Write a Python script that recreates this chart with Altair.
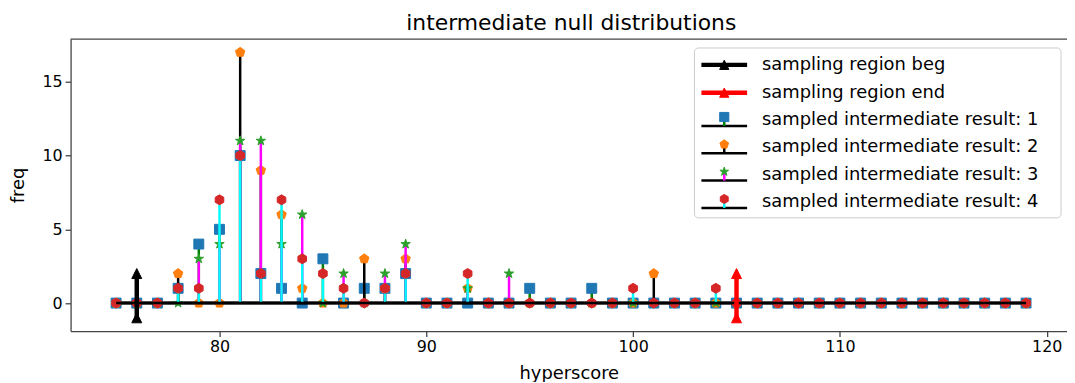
import altair as alt
import pandas as pd

# ---------------- data ----------------
hyperscore = [75, 76, 77, 78, 79, 80, 81, 82, 83, 84, 85, 86, 87, 88, 89, 90, 91, 92, 93, 94, 95, 96, 97,
              98, 99, 100, 101, 102, 103, 104, 105, 106, 107, 108, 109, 110, 111, 112, 113, 114, 115, 116,
              117, 118, 119]
freq_1 = [0, 0, 0, 1, 4, 5, 10, 2, 1, 0, 3, 0, 1, 1, 2, 0, 0, 0, 0, 0, 1, 0, 0,
          1, 0, 0, 0, 0, 0, 0, 0, 0, 0, 0, 0, 0, 0, 0, 0, 0, 0, 0, 0, 0, 0]
freq_2 = [0, 0, 0, 2, 0, 0, 17, 9, 6, 1, 0, 0, 3, 1, 3, 0, 0, 1, 0, 0, 0, 0, 0,
          0, 0, 0, 2, 0, 0, 0, 0, 0, 0, 0, 0, 0, 0, 0, 0, 0, 0, 0, 0, 0, 0]
freq_3 = [0, 0, 0, 0, 3, 4, 11, 11, 4, 6, 0, 2, 0, 2, 4, 0, 0, 1, 0, 2, 0, 0, 0,
          0, 0, 0, 0, 0, 0, 0, 0, 0, 0, 0, 0, 0, 0, 0, 0, 0, 0, 0, 0, 0, 0]
freq_4 = [0, 0, 0, 1, 1, 7, 10, 2, 7, 3, 2, 1, 0, 1, 2, 0, 0, 2, 0, 0, 0, 0, 0,
          0, 0, 1, 0, 0, 0, 1, 0, 0, 0, 0, 0, 0, 0, 0, 0, 0, 0, 0, 0, 0, 0]
series_labels = ["sampled intermediate result: 1", "sampled intermediate result: 2",
                 "sampled intermediate result: 3", "sampled intermediate result: 4"]

region_labels = ["sampling region beg", "sampling region end"]
region_x = [76, 105]
region_lo = [-1, -1]
region_hi = [2, 2]

x_ticks = [80, 90, 100, 110, 120]
y_ticks = [0, 5, 10, 15]
chart_title = "intermediate null distributions"

# ---------------- styles ----------------
marker_colors = ["#1f77b4", "#ff7f0e", "#2ca02c", "#d62728"]
stem_colors = ["green", "black", "magenta", "cyan"]
region_colors = ["black", "red"]

SQUARE = "M-1,-1L1,-1L1,1L-1,1Z"
PENTAGON = "M0,-1L0.951,-0.309L0.588,0.809L-0.588,0.809L-0.951,-0.309Z"
STAR = ("M0,-1L0.225,-0.309L0.951,-0.309L0.363,0.118L0.588,0.809L0,0.382L-0.588,0.809"
        "L-0.363,0.118L-0.951,-0.309L-0.225,-0.309Z")
HEXAGON = "M0,-1L0.866,-0.5L0.866,0.5L0,1L-0.866,0.5L-0.866,-0.5Z"
TRIANGLE = "M0,-1L1,1L-1,1Z"
marker_shapes = [SQUARE, PENTAGON, STAR, HEXAGON]

FONT = "DejaVu Sans"
W, H = 1003, 294
MSIZE = 100

xscale = alt.Scale(domain=[72.8, 120.98], nice=False, zero=False)
yscale = alt.Scale(domain=[-1.9, 17.9], nice=False, zero=False)
xaxis = alt.Axis(values=x_ticks, title="hyperscore", format="d", titleY=48,
                 titleBaseline="alphabetic", labelPadding=2)
yaxis = alt.Axis(values=y_ticks, title="freq", format="d", titleX=-47,
                 titleBaseline="alphabetic", labelPadding=3)


def X(field):
    return alt.X(field, type="quantitative", scale=xscale, axis=xaxis)


def Y(field):
    return alt.Y(field, type="quantitative", scale=yscale, axis=yaxis)


layers = []
all_freqs = [freq_1, freq_2, freq_3, freq_4]
for i, fr in enumerate(all_freqs):
    df = pd.DataFrame({"hyperscore": hyperscore, "freq": fr, "series": series_labels[i]})
    base = alt.Chart(df)
    stems = base.mark_rule(color=stem_colors[i], strokeWidth=2.5).encode(
        x=X("hyperscore"), y=Y("freq"), y2=alt.Y2(datum=0))
    marks = base.mark_point(shape=marker_shapes[i], filled=True, size=MSIZE, opacity=1,
                            color=marker_colors[i], stroke=marker_colors[i],
                            strokeWidth=1).encode(x=X("hyperscore"), y=Y("freq"))
    baseline = base.mark_rule(color="black", strokeWidth=2.5).encode(
        x=alt.X("min(hyperscore):Q", scale=xscale, axis=xaxis),
        x2=alt.X2("max(hyperscore)"),
        y=alt.Y(datum=0, scale=yscale, axis=yaxis))
    layers += [stems, marks, baseline]

# sampling region arrows
for j in range(2):
    rdf = pd.DataFrame({"hyperscore": [region_x[j]], "lo": [region_lo[j]], "hi": [region_hi[j]]})
    layers.append(alt.Chart(rdf).mark_rule(color=region_colors[j], strokeWidth=4.5).encode(
        x=X("hyperscore"), y=Y("lo"), y2="hi"))
    tdf = pd.DataFrame({"hyperscore": [region_x[j], region_x[j]], "freq": [region_lo[j], region_hi[j]]})
    layers.append(alt.Chart(tdf).mark_point(shape=TRIANGLE, filled=True, size=MSIZE, opacity=1,
                                            color=region_colors[j], stroke=region_colors[j],
                                            strokeWidth=1).encode(x=X("hyperscore"), y=Y("freq")))

# ---------------- legend (drawn in plot pixel space) ----------------
PX = dict(scale=None, axis=None)
box = pd.DataFrame({"x0": [628], "x1": [997], "y0": [9], "y1": [180]})
layers.append(alt.Chart(box).mark_rect(fill="white", fillOpacity=0.8, stroke="#cccccc",
                                       strokeWidth=1, cornerRadius=4).encode(
    x=alt.X("x0:Q", **PX), x2="x1:Q", y=alt.Y("y0:Q", **PX), y2="y1:Q"))

leg_labels = region_labels + series_labels
leg_y = [26, 54, 81.5, 109, 136.5, 164]
hx0, hx1, hxc, tx = 635, 681, 658, 696

# region entries: thick line + triangle
reg = pd.DataFrame({"x0": [hx0] * 2, "x1": [hx1] * 2, "xc": [hxc] * 2, "y": leg_y[:2],
                    "c": region_colors})
layers.append(alt.Chart(reg).mark_rule(strokeWidth=4.5).encode(
    x=alt.X("x0:Q", **PX), x2="x1:Q", y=alt.Y("y:Q", **PX), color=alt.Color("c:N", scale=None)))
layers.append(alt.Chart(reg).mark_point(shape=TRIANGLE, filled=True, size=MSIZE * 0.85, opacity=1,
                                        strokeWidth=1).encode(
    x=alt.X("xc:Q", **PX), y=alt.Y("y:Q", **PX), color=alt.Color("c:N", scale=None),
    stroke=alt.Stroke("c:N", scale=None)))

# stem entries: baseline + stem + marker
st = pd.DataFrame({"x0": [hx0] * 4, "x1": [hx1] * 4, "xc": [hxc] * 4,
                   "my": [v - 3 for v in leg_y[2:]], "by": [v + 6 for v in leg_y[2:]],
                   "mc": marker_colors, "sc": stem_colors, "shape": marker_shapes})
layers.append(alt.Chart(st).mark_rule(strokeWidth=2.5, color="black").encode(
    x=alt.X("x0:Q", **PX), x2="x1:Q", y=alt.Y("by:Q", **PX)))
layers.append(alt.Chart(st).mark_rule(strokeWidth=2.5).encode(
    x=alt.X("xc:Q", **PX), y=alt.Y("my:Q", **PX), y2="by:Q", color=alt.Color("sc:N", scale=None)))
layers.append(alt.Chart(st).mark_point(filled=True, size=MSIZE * 0.85, opacity=1, strokeWidth=1).encode(
    x=alt.X("xc:Q", **PX), y=alt.Y("my:Q", **PX), color=alt.Color("mc:N", scale=None),
    stroke=alt.Stroke("mc:N", scale=None), shape=alt.Shape("shape:N", scale=None)))

txt = pd.DataFrame({"label": leg_labels, "x": [tx] * 6, "y": leg_y})
layers.append(alt.Chart(txt).mark_text(align="left", baseline="middle", font=FONT, fontSize=18,
                                       color="black").encode(
    x=alt.X("x:Q", **PX), y=alt.Y("y:Q", **PX), text="label:N"))

# top spine
layers.append(alt.Chart(pd.DataFrame({"a": [0]})).mark_rule(color="#444444", strokeWidth=1.3).encode(
    x=alt.value(0), x2=alt.value(W), y=alt.value(0)))

# chart title (as text above the plot area)
layers.append(alt.Chart(pd.DataFrame({"t": [chart_title]})).mark_text(
    align="center", baseline="alphabetic", font=FONT, fontSize=22, color="black").encode(
    x=alt.value(504), y=alt.value(-9), text="t:N"))

chart = alt.layer(*layers).properties(
    width=W, height=H,
    padding={"left": 63, "top": 30, "right": 0, "bottom": 50},
    autosize=alt.AutoSizeParams(type="none"),
).configure_view(stroke=None).configure_axis(
    domainColor="#444444", domainWidth=1.3, tickColor="#444444", tickWidth=1.3, tickSize=5.5,
    labelFont=FONT, labelFontSize=16, labelColor="black", titleFont=FONT, titleFontSize=18,
    titleColor="black", titleFontWeight="normal", grid=False,
)

chart.save("out.html", embed_options={"renderer": "svg", "actions": False})
